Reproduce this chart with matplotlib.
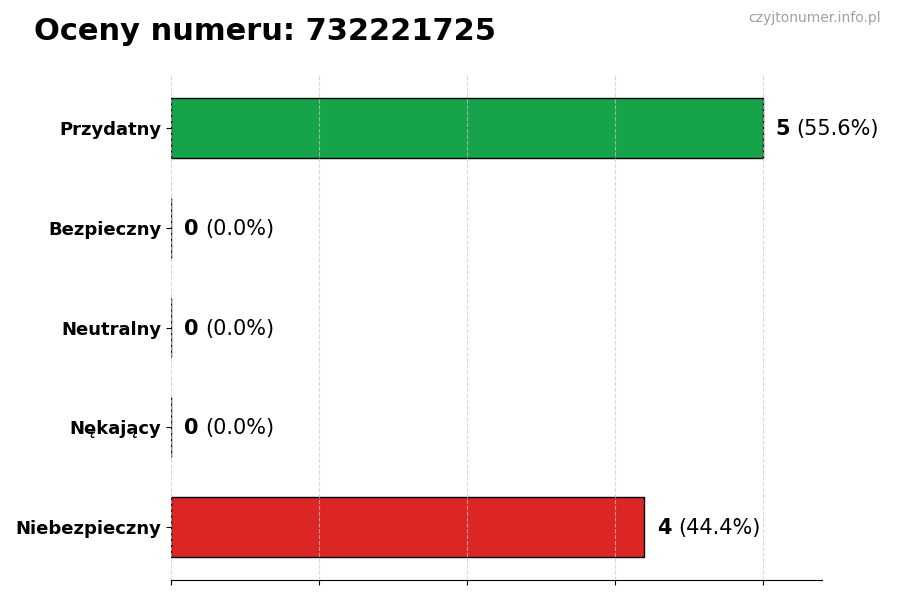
"""Horizontal bar chart of phone-number ratings."""
import matplotlib
matplotlib.use("Agg")
import matplotlib.pyplot as plt
import numpy as np

PHONE_NUMBER = "732221725"
CATEGORIES = ["Przydatny", "Bezpieczny", "Neutralny", "Nękający", "Niebezpieczny"]
COUNTS = [5, 0, 0, 0, 4]
COLORS = ["#16a34a", "#2563eb", "#6b7280", "#f97316", "#dc2626"]


def main():
    fig = plt.figure(figsize=(9, 6), dpi=100)
    ax = fig.add_axes([0.19, 0.0333, 0.7233, 0.8417])

    total = sum(COUNTS)
    y_pos = np.arange(len(CATEGORIES))
    ax.barh(y_pos, COUNTS, height=0.6, color=COLORS, edgecolor="black", linewidth=1)
    ax.invert_yaxis()

    max_count = max(COUNTS)
    ax.set_xlim(0, max_count * 1.1)
    ax.set_xticks(np.linspace(0, max_count, 5))
    ax.set_xticklabels([])
    ax.set_yticks(y_pos)
    ax.set_yticklabels(CATEGORIES, fontsize=13, fontweight="bold")

    ax.grid(axis="x", linestyle="--", color="#c8c8c8", alpha=0.7, linewidth=0.8)
    for side in ("top", "right", "left"):
        ax.spines[side].set_visible(False)

    # value label: bold count followed by the share in normal weight
    for y, count in zip(y_pos, COUNTS):
        pct = count / total * 100 if total else 0.0
        num = ax.text(count + max_count * 0.022, y + 0.01, str(count), fontsize=15,
                      fontweight="bold", va="center", ha="left")
        ax.annotate(f"({pct:.1f}%)", xy=(1, 0.5), xycoords=num,
                    xytext=(4.5, 0), textcoords="offset points",
                    fontsize=15, va="center", ha="left")

    fig.text(0.038, 0.948, f"Oceny numeru: {PHONE_NUMBER}", fontsize=22,
             fontweight="bold", va="center", ha="left")
    fig.text(0.979, 0.970, "czyjtonumer.info.pl", fontsize=10, color="#a0a0a0",
             va="center", ha="right")

    fig.savefig("out.png", dpi=100)
    plt.close(fig)


if __name__ == "__main__":
    main()
